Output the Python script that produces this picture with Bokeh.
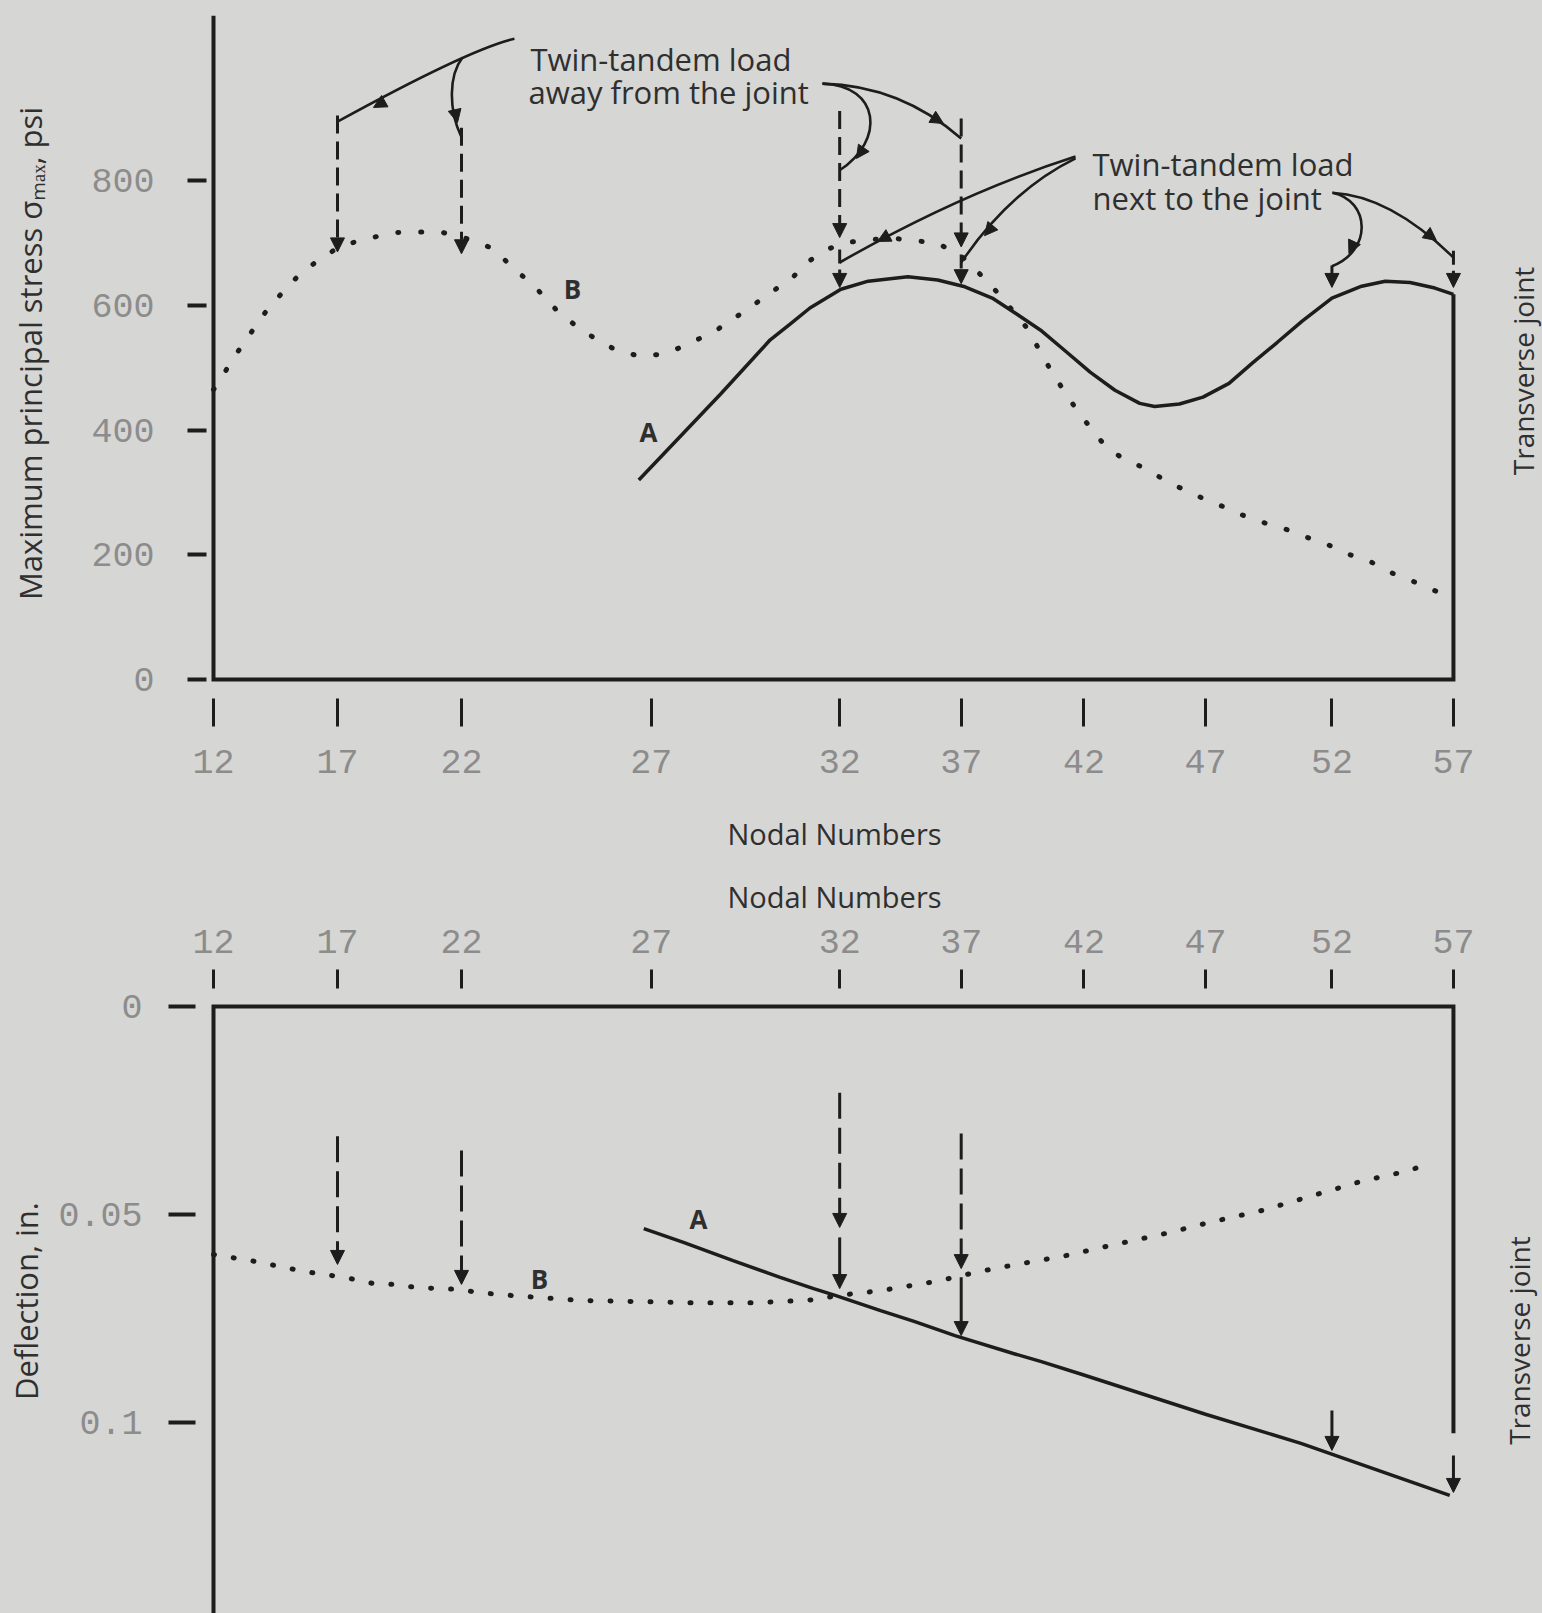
import numpy as np
from bokeh.plotting import figure
from bokeh.layouts import column, row
from bokeh.models import (Range1d, FixedTicker, Label, Arrow, NormalHead, GlobalInlineStyleSheet)
from bokeh.embed import file_html
from bokeh.resources import INLINE

# ---------------- data ----------------
node_labels = ["12", "17", "22", "27", "32", "37", "42", "47", "52", "57"]
node_x = [0.0, 1.0, 2.0, 3.53, 5.05, 6.03, 7.02, 8.0, 9.02, 10.0]   # position along the slab

stress_ticks = [0, 200, 400, 600, 800]

# curve B: twin-tandem load away from the joint (max principal stress, psi)
stress_b_x = [0.0, 0.22, 0.45, 0.68, 0.84, 1.03, 1.24, 1.45, 1.64, 1.83, 2.05, 2.26, 2.39, 2.50,
              2.62, 2.76, 2.90, 3.07, 3.25, 3.45, 3.65, 3.85, 4.06, 4.24, 4.42, 4.68, 4.80, 4.94,
              5.07, 5.30, 5.52, 5.84, 6.04, 6.24, 6.36, 6.56, 6.77, 6.98, 7.19, 7.33, 7.51, 7.67,
              7.85, 8.01, 8.16, 8.32, 8.48, 8.68, 8.82, 8.98, 9.14, 9.34, 9.49, 9.68, 9.81, 9.97]
stress_b = [465, 533, 598, 647, 672, 696, 707, 717, 718, 718, 707, 691, 665, 646,
            624, 594, 571, 548, 528, 518, 523, 540, 561, 585, 610, 647, 671, 689,
            700, 706, 707, 700, 678, 639, 612, 564, 490, 427, 375, 355, 339, 320,
            302, 288, 276, 262, 251, 239, 228, 217, 202, 188, 172, 157, 146, 132]

# curve A: twin-tandem load next to the joint
stress_a_x = [3.43, 4.09, 4.49, 4.65, 4.81, 5.06, 5.28, 5.60, 5.84, 6.06, 6.28, 6.48, 6.68, 6.87,
              7.07, 7.27, 7.47, 7.59, 7.79, 7.98, 8.19, 8.38, 8.58, 8.78, 9.02, 9.26, 9.45, 9.65,
              9.85, 10.0]
stress_a = [320, 458, 545, 570, 596, 626, 639, 646, 641, 630, 612, 586, 559, 527,
            493, 464, 443, 438, 442, 453, 475, 508, 541, 575, 612, 631, 639, 637,
            628, 618]

defl_ticks = [0, 0.05, 0.1]
defl_tick_labels = ["0", "0.05", "0.1"]

# deflection, in.
defl_b_x = [0.0, 0.34, 0.62, 0.80, 0.96, 1.14, 1.29, 1.45, 1.63, 1.81, 1.98, 2.15, 2.42, 2.99,
            3.40, 3.83, 4.38, 4.72, 4.88, 5.02, 5.38, 5.54, 5.72, 5.86, 6.0, 6.18, 6.35, 6.52,
            6.87, 7.27, 7.67, 8.06, 8.46, 8.86, 9.26, 9.65, 9.83]
defl_b = [0.0596, 0.0613, 0.0630, 0.0640, 0.0647, 0.0656, 0.0666, 0.0668, 0.0675, 0.0678, 0.0680,
          0.0688, 0.0695, 0.0707, 0.0709, 0.0712, 0.0712, 0.0707, 0.0704, 0.0695, 0.0683, 0.0675,
          0.0666, 0.0659, 0.0649, 0.0637, 0.0627, 0.0618, 0.0599, 0.0572, 0.0546, 0.0517, 0.0490,
          0.0455, 0.0420, 0.0394, 0.0373]
defl_a_x = [3.47, 3.79, 4.19, 4.57, 4.84, 5.02, 5.38, 5.65, 5.98, 6.45, 6.67, 7.0, 8.0, 8.77, 9.97]
defl_a = [0.0534, 0.0567, 0.0611, 0.0651, 0.0678, 0.0695, 0.0731, 0.0757, 0.0791, 0.0834, 0.0853,
          0.0884, 0.0980, 0.1050, 0.1175]

# load positions marked with arrows
away_nodes = ["17", "22", "32", "37"]
next_nodes = ["32", "37", "52", "57"]
stress_away_top = [905, 885, 912, 900]
stress_away_tip = [686, 683, 709, 694]
stress_next_top = [690, 682, 664, 688]
stress_next_tip = [629, 635, 629, 629]
defl_away_top = [0.0312, 0.0346, 0.0207, 0.0305]
defl_away_tip = [0.0620, 0.0668, 0.0531, 0.0630]
defl_next_top = [0.0555, 0.0651, 0.0971, 0.1079]
defl_next_tip = [0.0678, 0.0791, 0.1067, 0.1168]

STRESS_AXIS_TOP = 1065
DEFL_AXIS_BOTTOM = 0.1459
DEFL_JOINT_LINE_END = 0.1026

# ---------------- style ----------------
INK = "#1d1d1d"
TXT = "#2f2f2f"
TICK_TXT = "#8c8c8c"
BG = "#d6d6d4"
SANS = "Open Sans"
MONO = "Liberation Mono"
MAIN_W, SIDE_W = 1484, 58


def style(p):
    p.background_fill_color = BG
    p.border_fill_color = BG
    p.outline_line_color = None
    p.grid.visible = False
    for ax in p.axis:
        ax.axis_line_color = None
        ax.minor_tick_line_color = None
        ax.major_tick_in = 0
        ax.major_tick_line_color = INK
        ax.major_label_text_font = MONO
        ax.major_label_text_font_size = "35px"
        ax.major_label_text_color = TICK_TXT
        ax.axis_label_text_font = SANS
        ax.axis_label_text_font_style = "normal"
        ax.axis_label_text_font_size = "31px"
        ax.axis_label_text_color = TXT


def side_panel(height, y_range, border_top, border_bottom, x, y):
    s = figure(width=SIDE_W, height=height, x_range=Range1d(0, SIDE_W), y_range=y_range,
               x_axis_type=None, y_axis_type=None, output_backend="svg", toolbar_location=None,
               min_border_left=0, min_border_right=0, min_border_top=border_top,
               min_border_bottom=border_bottom)
    s.background_fill_color = BG
    s.border_fill_color = BG
    s.outline_line_color = None
    s.add_layout(Label(x=x, y=y, text="Transverse joint", text_font=SANS, text_font_size="28px",
                       text_color=TXT, text_align="center", text_baseline="middle", angle=np.pi / 2))
    return s


def nx(n):
    return node_x[node_labels.index(n)]


def head(size=14):
    return NormalHead(size=size, fill_color=INK, line_color=INK, line_width=1)


def label(p, x, y, text, size="28px", align="left", baseline="alphabetic", style_="normal"):
    p.add_layout(Label(x=x, y=y, text=text, text_font=SANS, text_font_size=size,
                       text_color=TXT, text_align=align, text_baseline=baseline,
                       text_font_style=style_))


X_RANGE = (-0.0565, 10.073)

# ================= top figure: stress =================
stress_range = Range1d(-30.5, 1076.5)
p1 = figure(width=MAIN_W, height=860, x_range=Range1d(*X_RANGE), y_range=stress_range,
            output_backend="svg", toolbar_location=None,
            min_border_left=206, min_border_right=MAIN_W - 1462, min_border_top=8, min_border_bottom=162)
style(p1)
p1.xaxis.ticker = FixedTicker(ticks=node_x)
p1.xaxis.major_label_overrides = dict(zip(node_x, node_labels))
p1.xaxis.major_tick_out = 28
p1.xaxis.major_tick_line_width = 3
p1.xaxis.major_label_standoff = 23
p1.xaxis.axis_label = "Nodal Numbers"
p1.xaxis.axis_label_text_font_size = "29px"
p1.xaxis.axis_label_standoff = 38
p1.yaxis.ticker = FixedTicker(ticks=stress_ticks)
p1.yaxis.major_tick_out = 19
p1.yaxis.major_tick_line_width = 4
p1.yaxis.major_label_standoff = 33
p1.yaxis.axis_label = "Maximum principal stress σₘₐₓ, psi"
p1.yaxis.axis_label_standoff = 37

# frame lines (left axis, base, transverse joint)
p1.line([node_x[0], node_x[0], node_x[-1], node_x[-1]], [STRESS_AXIS_TOP, 0, 0, stress_a[-1]],
        line_color=INK, line_width=4, line_join="miter")
# curves
p1.line(stress_a_x, stress_a, line_color=INK, line_width=3.5)
p1.line(stress_b_x, stress_b, line_color=INK, line_width=5, line_dash="1 22", line_cap="round")

# load arrows
for n, top, tip in zip(away_nodes, stress_away_top, stress_away_tip):
    p1.add_layout(Arrow(end=head(), x_start=nx(n), y_start=top, x_end=nx(n), y_end=tip,
                        line_color=INK, line_width=3, line_dash="18 8"))
for n, top, tip in zip(next_nodes, stress_next_top, stress_next_tip):
    p1.add_layout(Arrow(end=head(), x_start=nx(n), y_start=top, x_end=nx(n), y_end=tip,
                        line_color=INK, line_width=3, line_dash="14 6"))

# leaders
LW = 2.6
p1.quadratic(x0=[2.427], y0=[1028], x1=[1.0], y1=[895], cx=[2.073], cy=[1012], line_color=INK, line_width=LW)
p1.bezier(x0=[2.008], y0=[998], x1=[2.0], y1=[870], cx0=[1.895], cy0=[969], cx1=[1.895], cy1=[913],
          line_color=INK, line_width=LW)
p1.bezier(x0=[4.911], y0=[956], x1=[5.05], y1=[817], cx0=[5.379], cy0=[953], cx1=[5.419], cy1=[865],
          line_color=INK, line_width=LW)
p1.quadratic(x0=[4.911], y0=[956], x1=[6.03], y1=[868], cx=[5.540], cy=[953], line_color=INK, line_width=LW)
p1.quadratic(x0=[6.952], y0=[839], x1=[5.05], y1=[669], cx=[6.024], cy=[780], line_color=INK, line_width=LW)
p1.quadratic(x0=[6.952], y0=[836], x1=[6.03], y1=[669], cx=[6.427], cy=[785], line_color=INK, line_width=LW)
p1.bezier(x0=[9.024], y0=[781], x1=[9.02], y1=[663], cx0=[9.331], cy0=[768], cx1=[9.347], cy1=[688],
          line_color=INK, line_width=LW)
p1.quadratic(x0=[9.024], y0=[781], x1=[10.0], y1=[677], cx=[9.492], cy=[776], line_color=INK, line_width=LW)
for (xs, ys, xe, ye) in [(1.532, 944.6, 1.290, 917.7), (1.940, 917.8, 1.968, 893.6),
                         (5.263, 858.3, 5.185, 835.8), (5.726, 911.3, 5.887, 892.0),
                         (5.641, 732.9, 5.355, 702.7), (6.381, 751.0, 6.218, 712.0),
                         (9.226, 712.3, 9.157, 683.3), (9.707, 728.2, 9.863, 704.3)]:
    p1.add_layout(Arrow(end=head(13), x_start=xs, y_start=ys, x_end=xe, y_end=ye, line_alpha=0))

label(p1, 2.556, 994.7, "Twin-tandem load", size="31px")
label(p1, 2.540, 941.8, "away from the joint", size="31px")
label(p1, 7.089, 827.8, "Twin-tandem load", size="31px")
label(p1, 7.089, 771.7, "next to the joint", size="31px")
label(p1, 2.895, 625.7, "B", size="26px", align="center", baseline="middle", style_="bold")
label(p1, 3.508, 396.3, "A", size="26px", align="center", baseline="middle", style_="bold")

s1 = side_panel(860, stress_range, 8, 162, 1522 - MAIN_W, 495)

# ================= bottom figure: deflection =================
defl_range = Range1d(0.1459, -0.00433)
p2 = figure(width=MAIN_W, height=753, x_range=Range1d(*X_RANGE), y_range=defl_range,
            x_axis_location="above", output_backend="svg", toolbar_location=None,
            min_border_left=206, min_border_right=MAIN_W - 1462, min_border_top=128, min_border_bottom=0)
style(p2)
p2.xaxis.ticker = FixedTicker(ticks=node_x)
p2.xaxis.major_label_overrides = dict(zip(node_x, node_labels))
p2.xaxis.major_tick_out = 19
p2.xaxis.major_tick_line_width = 3
p2.xaxis.major_label_standoff = 17
p2.xaxis.axis_label = "Nodal Numbers"
p2.xaxis.axis_label_text_font_size = "29px"
p2.xaxis.axis_label_standoff = 11
p2.yaxis.ticker = FixedTicker(ticks=defl_ticks)
p2.yaxis.major_label_overrides = dict(zip(defl_ticks, defl_tick_labels))
p2.yaxis.major_tick_in = -11
p2.yaxis.major_tick_out = 38
p2.yaxis.major_tick_line_width = 4
p2.yaxis.major_label_standoff = 26
p2.yaxis.axis_label = "Deflection, in."
p2.yaxis.axis_label_standoff = 8

p2.line([node_x[0], node_x[0], node_x[-1], node_x[-1]], [DEFL_AXIS_BOTTOM, 0, 0, DEFL_JOINT_LINE_END],
        line_color=INK, line_width=4, line_join="miter")
p2.line(defl_a_x, defl_a, line_color=INK, line_width=3.5)
p2.line(defl_b_x, defl_b, line_color=INK, line_width=5, line_dash="1 19", line_cap="round")

for n, top, tip in zip(away_nodes, defl_away_top, defl_away_tip):
    p2.add_layout(Arrow(end=head(), x_start=nx(n), y_start=top, x_end=nx(n), y_end=tip,
                        line_color=INK, line_width=3, line_dash="26 9"))
for n, top, tip in zip(next_nodes, defl_next_top, defl_next_tip):
    p2.add_layout(Arrow(end=head(), x_start=nx(n), y_start=top, x_end=nx(n), y_end=tip,
                        line_color=INK, line_width=3))

label(p2, 3.911, 0.0510, "A", size="26px", align="center", baseline="middle", style_="bold")
label(p2, 2.629, 0.0654, "B", size="26px", align="center", baseline="middle", style_="bold")

s2 = side_panel(753, defl_range, 128, 0, 1518 - MAIN_W, 0.0803)

layout = column(row(p1, s1), row(p2, s2),
                stylesheets=[GlobalInlineStyleSheet(css=f"html, body {{ background-color: {BG}; }}")])

open("out.html", "w").write(file_html(layout, INLINE))
